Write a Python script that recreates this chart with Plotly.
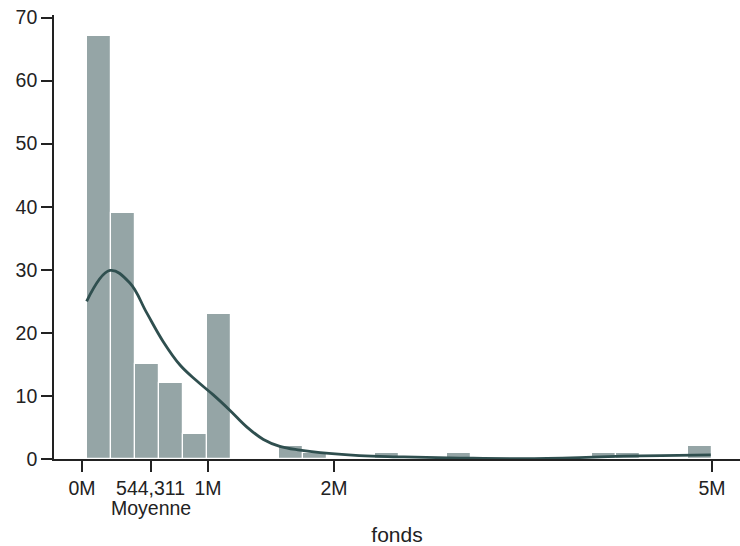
import plotly.graph_objects as go

# Histogram of "fonds" (26 equal-width bins) with its density curve
bin_start = 37000
bin_width = 190885
counts = [67, 39, 15, 12, 4, 23, 0, 0, 2, 1, 0, 0, 1, 0, 0, 1,
          0, 0, 0, 0, 0, 1, 1, 0, 0, 2]

# Density curve, scaled to counts
kde_x = [37000, 222000, 380000, 513000, 645000, 778000, 910000, 1040000,
         1175000, 1307000, 1440000, 1570000, 1730000, 1890000, 2200000,
         2500000, 3000000, 3500000, 4000000, 4300000, 4600000, 4990000]
kde_y = [25.0, 29.9, 27.9, 23.2, 18.6, 14.9, 12.4, 10.2, 7.7, 5.1, 3.1,
         2.0, 1.4, 1.0, 0.55, 0.35, 0.15, 0.05, 0.25, 0.45, 0.55, 0.65]

# Axis ticks
mean_value = 544311
tick_vals = [0, mean_value, 1000000, 2000000, 5000000]
tick_text = ["0M", "544,311", "1M", "2M", "5M"]
y_ticks = [0, 10, 20, 30, 40, 50, 60, 70]

centers = [bin_start + (i + 0.5) * bin_width for i in range(len(counts))]

FONT = "Liberation Sans, Arial, Helvetica, sans-serif"
INK = "#222"

fig = go.Figure()
fig.add_trace(go.Bar(
    x=centers, y=counts, width=bin_width,
    marker=dict(color="#95a5a6", line=dict(color="white", width=1.2)),
    hoverinfo="x+y", showlegend=False,
))
fig.add_trace(go.Scatter(
    x=kde_x, y=kde_y, mode="lines",
    line=dict(color="#2f4f4f", width=2.8, shape="spline", smoothing=1.1),
    showlegend=False,
))

# Caption under the mean tick
fig.add_annotation(
    x=mean_value, xref="x", y=0, yref="paper", yshift=-36,
    text="Moyenne", showarrow=False, xanchor="center", yanchor="top",
    font=dict(family=FONT, size=19.5, color=INK),
)

axis_font = dict(family=FONT, size=19.5, color=INK)

fig.update_layout(
    width=740, height=546,
    margin=dict(l=54, r=0, t=15, b=87),
    paper_bgcolor="white", plot_bgcolor="white",
    bargap=0,
    xaxis=dict(
        range=[-222000, 5222000],
        tickvals=tick_vals, ticktext=tick_text,
        ticks="outside", ticklen=11, tickwidth=1.6, tickcolor=INK,
        showline=True, linecolor=INK, linewidth=1.6,
        showgrid=False, zeroline=False,
        tickfont=axis_font,
        title=dict(text="fonds", font=dict(family=FONT, size=21, color=INK), standoff=30),
    ),
    yaxis=dict(
        range=[0, 70.4],
        tickvals=y_ticks,
        ticks="outside", ticklen=11, tickwidth=1.6, tickcolor=INK,
        showline=True, linecolor=INK, linewidth=1.6,
        showgrid=False, zeroline=False,
        tickfont=axis_font,
    ),
)

fig.write_html("out.html")
